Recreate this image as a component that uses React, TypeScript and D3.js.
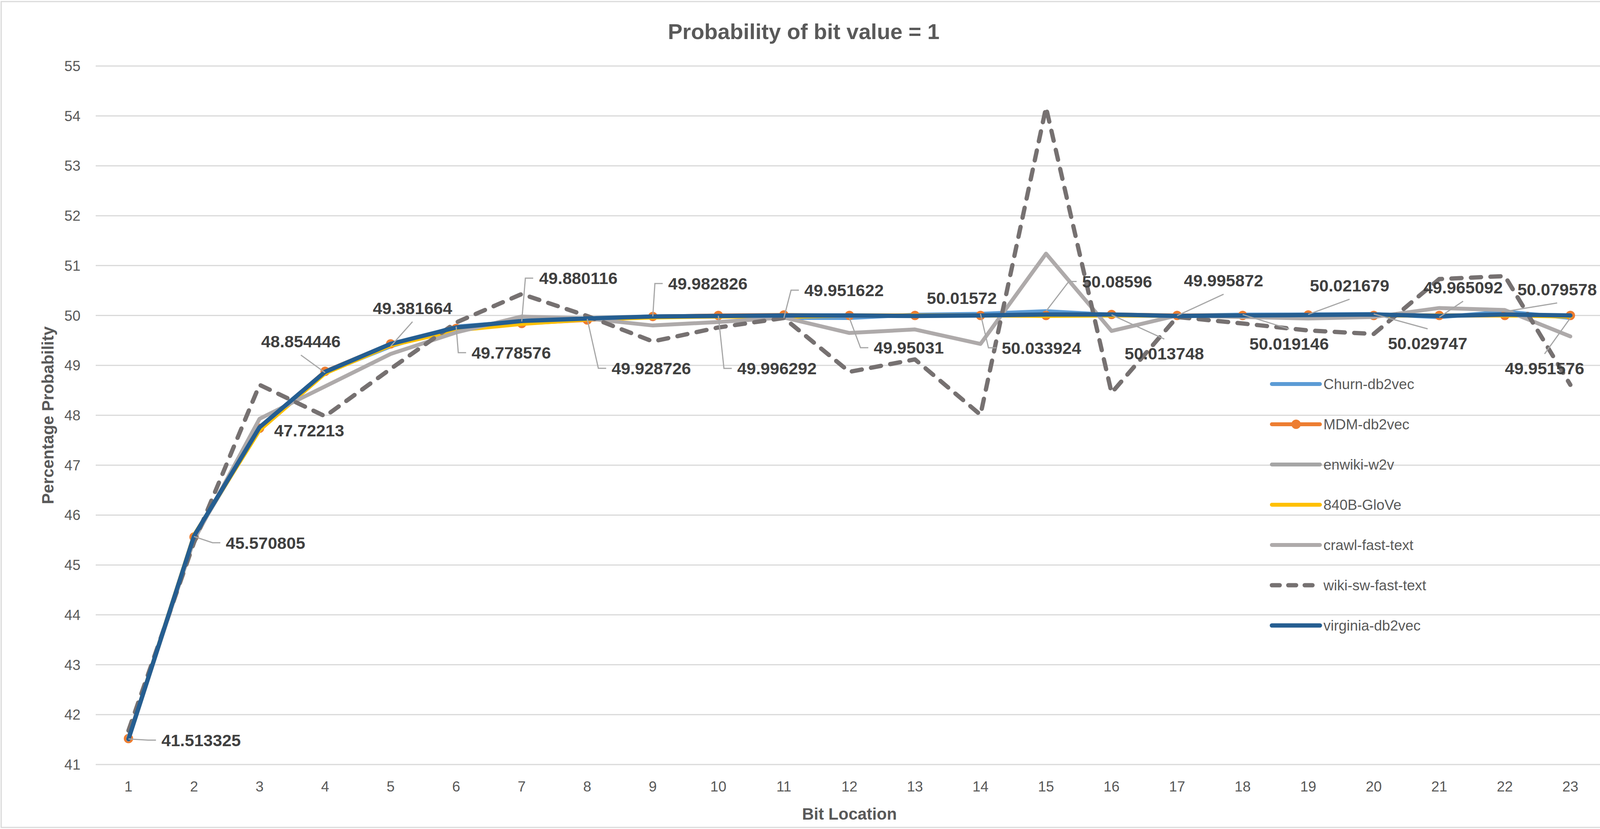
import React from 'react'
import * as d3 from 'd3'

const bits = ['1', '2', '3', '4', '5', '6', '7', '8', '9', '10', '11', '12', '13', '14', '15', '16', '17', '18', '19', '20', '21', '22', '23']

const churn = [41.513325, 45.570805, 47.72213, 48.854446, 49.381664, 49.778576, 49.880116, 49.928726, 49.982826, 49.996292, 49.951622, 49.95031, 50.01572, 50.033924, 50.08596, 50.013748, 49.995872, 50.019146, 50.021679, 50.029747, 49.965092, 50.079578, 49.951576]
const mdm = [41.52, 45.56, 47.74, 48.88, 49.43, 49.74, 49.84, 49.91, 49.98, 50.0, 50.01, 50.0, 50.0, 50.0, 50.0, 50.02, 50.0, 50.0, 50.01, 50.0, 50.0, 50.0, 50.0]
const enwiki = [41.5, 45.55, 47.75, 48.86, 49.42, 49.76, 49.87, 49.94, 49.97, 49.98, 49.99, 49.99, 50.0, 50.0, 50.01, 50.0, 49.99, 50.0, 50.0, 50.0, 50.0, 50.01, 50.0]
const glove = [41.52, 45.6, 47.7, 48.84, 49.4, 49.7, 49.83, 49.92, 49.96, 49.98, 49.97, 50.0, 50.0, 50.0, 49.99, 50.0, 49.99, 50.0, 50.0, 50.0, 50.0, 50.0, 49.98]
const crawl = [41.55, 45.5, 47.93, 48.58, 49.23, 49.66, 49.98, 49.94, 49.8, 49.87, 49.96, 49.65, 49.72, 49.43, 51.24, 49.69, 50.0, 49.97, 49.94, 49.97, 50.15, 50.11, 49.58]
const wikiSw = [41.68, 45.45, 48.61, 47.98, 48.93, 49.86, 50.43, 49.99, 49.48, 49.76, 49.95, 48.87, 49.12, 48.01, 54.17, 48.45, 49.97, 49.84, 49.7, 49.63, 50.73, 50.79, 48.61]
const virginia = [41.51, 45.58, 47.76, 48.87, 49.43, 49.76, 49.89, 49.94, 49.98, 49.99, 50.0, 50.0, 49.99, 50.0, 50.02, 50.02, 49.99, 50.0, 50.01, 50.02, 49.99, 50.02, 50.0]

const yTicks = [41, 42, 43, 44, 45, 46, 47, 48, 49, 50, 51, 52, 53, 54, 55]

type Series = { name: string, values: number[], color: string, width: number, dash?: string, marker?: boolean }

const series: Series[] = [
    { name: 'Churn-db2vec', values: churn, color: '#5B9BD5', width: 10 },
    { name: 'MDM-db2vec', values: mdm, color: '#ED7D31', width: 10, marker: true },
    { name: 'enwiki-w2v', values: enwiki, color: '#A5A5A5', width: 10 },
    { name: '840B-GloVe', values: glove, color: '#FFC000', width: 10 },
    { name: 'crawl-fast-text', values: crawl, color: '#AEAAAA', width: 10 },
    { name: 'wiki-sw-fast-text', values: wikiSw, color: '#767171', width: 11, dash: '26 24' },
    { name: 'virginia-db2vec', values: virginia, color: '#255E91', width: 11 },
]

// where each Churn data label sits, relative to its point (Excel moved them by hand)
type Lead = 'left' | 'top' | 'bottom' | 'none'
const labelLayout: { dx: number, dy: number, lead: Lead }[] = [
    { dx: 186, dy: 3, lead: 'left' },
    { dx: 183, dy: 16, lead: 'left' },
    { dx: 127, dy: 3, lead: 'none' },
    { dx: -62, dy: -80, lead: 'bottom' },
    { dx: 56, dy: -98, lead: 'bottom' },
    { dx: 141, dy: 67, lead: 'left' },
    { dx: 145, dy: -111, lead: 'left' },
    { dx: 164, dy: 126, lead: 'left' },
    { dx: 141, dy: -84, lead: 'left' },
    { dx: 150, dy: 135, lead: 'left' },
    { dx: 154, dy: -71, lead: 'left' },
    { dx: 152, dy: 76, lead: 'left' },
    { dx: 120, dy: -43, lead: 'none' },
    { dx: 156, dy: 87, lead: 'left' },
    { dx: 182, dy: -76, lead: 'left' },
    { dx: 135, dy: 99, lead: 'top' },
    { dx: 119, dy: -90, lead: 'bottom' },
    { dx: 119, dy: 74, lead: 'top' },
    { dx: 106, dy: -74, lead: 'bottom' },
    { dx: 138, dy: 75, lead: 'top' },
    { dx: 61, dy: -76, lead: 'bottom' },
    { dx: 134, dy: -57, lead: 'bottom' },
    { dx: -66, dy: 129, lead: 'top' },
]

const W = 4115
const H = 2122
const plot = { left: 245, right: 4104, top: 169, bottom: 1957 }
const font = '"Liberation Sans", Arial, sans-serif'
const labelSize = 43

const App = () => {
    const x = d3.scalePoint<string>().domain(bits).range([plot.left, plot.right]).padding(0.5)
    const y = d3.scaleLinear().domain([41, 55]).range([plot.bottom, plot.top])

    const line = (vals: number[]) => d3.line<number>()
        .x((_, i) => x(bits[i])!)
        .y(d => y(d))(vals)!

    const legendX = 3256
    const legendY = 983
    const legendStep = 103

    return (
        <svg width={W} height={H} style={{ position: 'absolute', left: 0, top: 0, background: '#fff' }} fontFamily={font}>
            <rect x={0} y={0} width={W} height={H} fill='#fff' />
            <rect x={3} y={4} width={W - 8} height={H - 8} fill='none' stroke='#D9D9D9' strokeWidth={3} />

            <text x={W / 2} y={100} textAnchor='middle' fontSize={56} fontWeight='bold' fill='#595959'>
                Probability of bit value = 1
            </text>

            {yTicks.map(t => (
                <g key={t}>
                    <line x1={plot.left} x2={plot.right} y1={y(t)} y2={y(t)} stroke='#D9D9D9' strokeWidth={3} />
                    <text x={206} y={y(t) + 13} textAnchor='end' fontSize={37} fill='#595959'>{t}</text>
                </g>
            ))}

            {bits.map(b => (
                <text key={b} x={x(b)} y={2026} textAnchor='middle' fontSize={37} fill='#595959'>{b}</text>
            ))}

            <text x={(plot.left + plot.right) / 2} y={2098} textAnchor='middle' fontSize={42} fontWeight='bold' fill='#595959'>
                Bit Location
            </text>
            <text transform={`translate(137, ${(plot.top + plot.bottom) / 2}) rotate(-90)`} textAnchor='middle' fontSize={42} fontWeight='bold' fill='#595959'>
                Percentage Probability
            </text>

            {series.map(s => (
                <g key={s.name}>
                    <path d={line(s.values)} fill='none' stroke={s.color} strokeWidth={s.width}
                        strokeDasharray={s.dash} strokeLinecap='round' strokeLinejoin='round' />
                    {s.marker && s.values.map((v, i) => (
                        <circle key={i} cx={x(bits[i])} cy={y(v)} r={12} fill={s.color} />
                    ))}
                </g>
            ))}

            {churn.map((v, i) => {
                const px = x(bits[i])!
                const py = y(v)
                const lay = labelLayout[i]
                const cx = px + lay.dx
                const cy = py + lay.dy
                const txt = String(v)
                const w = labelSize * (0.556 * (txt.length - 1) + 0.278)
                const left = cx - w / 2
                let pts: [number, number][] = []
                if (lay.lead === 'left') pts = [[px, py], [left - 34, cy], [left - 14, cy]]
                if (lay.lead === 'top') pts = [[px, py], [cx, cy - 37]]
                if (lay.lead === 'bottom') pts = [[px, py], [cx, cy + 35]]
                return (
                    <g key={i}>
                        {pts.length > 0 && (
                            <polyline points={pts.map(p => p.join(',')).join(' ')} fill='none' stroke='#A6A6A6' strokeWidth={3} />
                        )}
                        <text x={cx} y={cy + labelSize * 0.358} textAnchor='middle' fontSize={labelSize} fontWeight='bold' fill='#404040'>
                            {txt}
                        </text>
                    </g>
                )
            })}

            {series.map((s, i) => {
                const ly = legendY + i * legendStep
                return (
                    <g key={s.name}>
                        <line x1={legendX} x2={s.dash ? legendX + 110 : legendX + 123} y1={ly} y2={ly} stroke={s.color}
                            strokeWidth={s.width} strokeDasharray={s.dash ? '20 22' : undefined} strokeLinecap='round' />
                        {s.marker && <circle cx={legendX + 62} cy={ly} r={12} fill={s.color} />}
                        <text x={3388} y={ly + 13} fontSize={37} fill='#595959'>{s.name}</text>
                    </g>
                )
            })}
        </svg>
    )
}

export default App
